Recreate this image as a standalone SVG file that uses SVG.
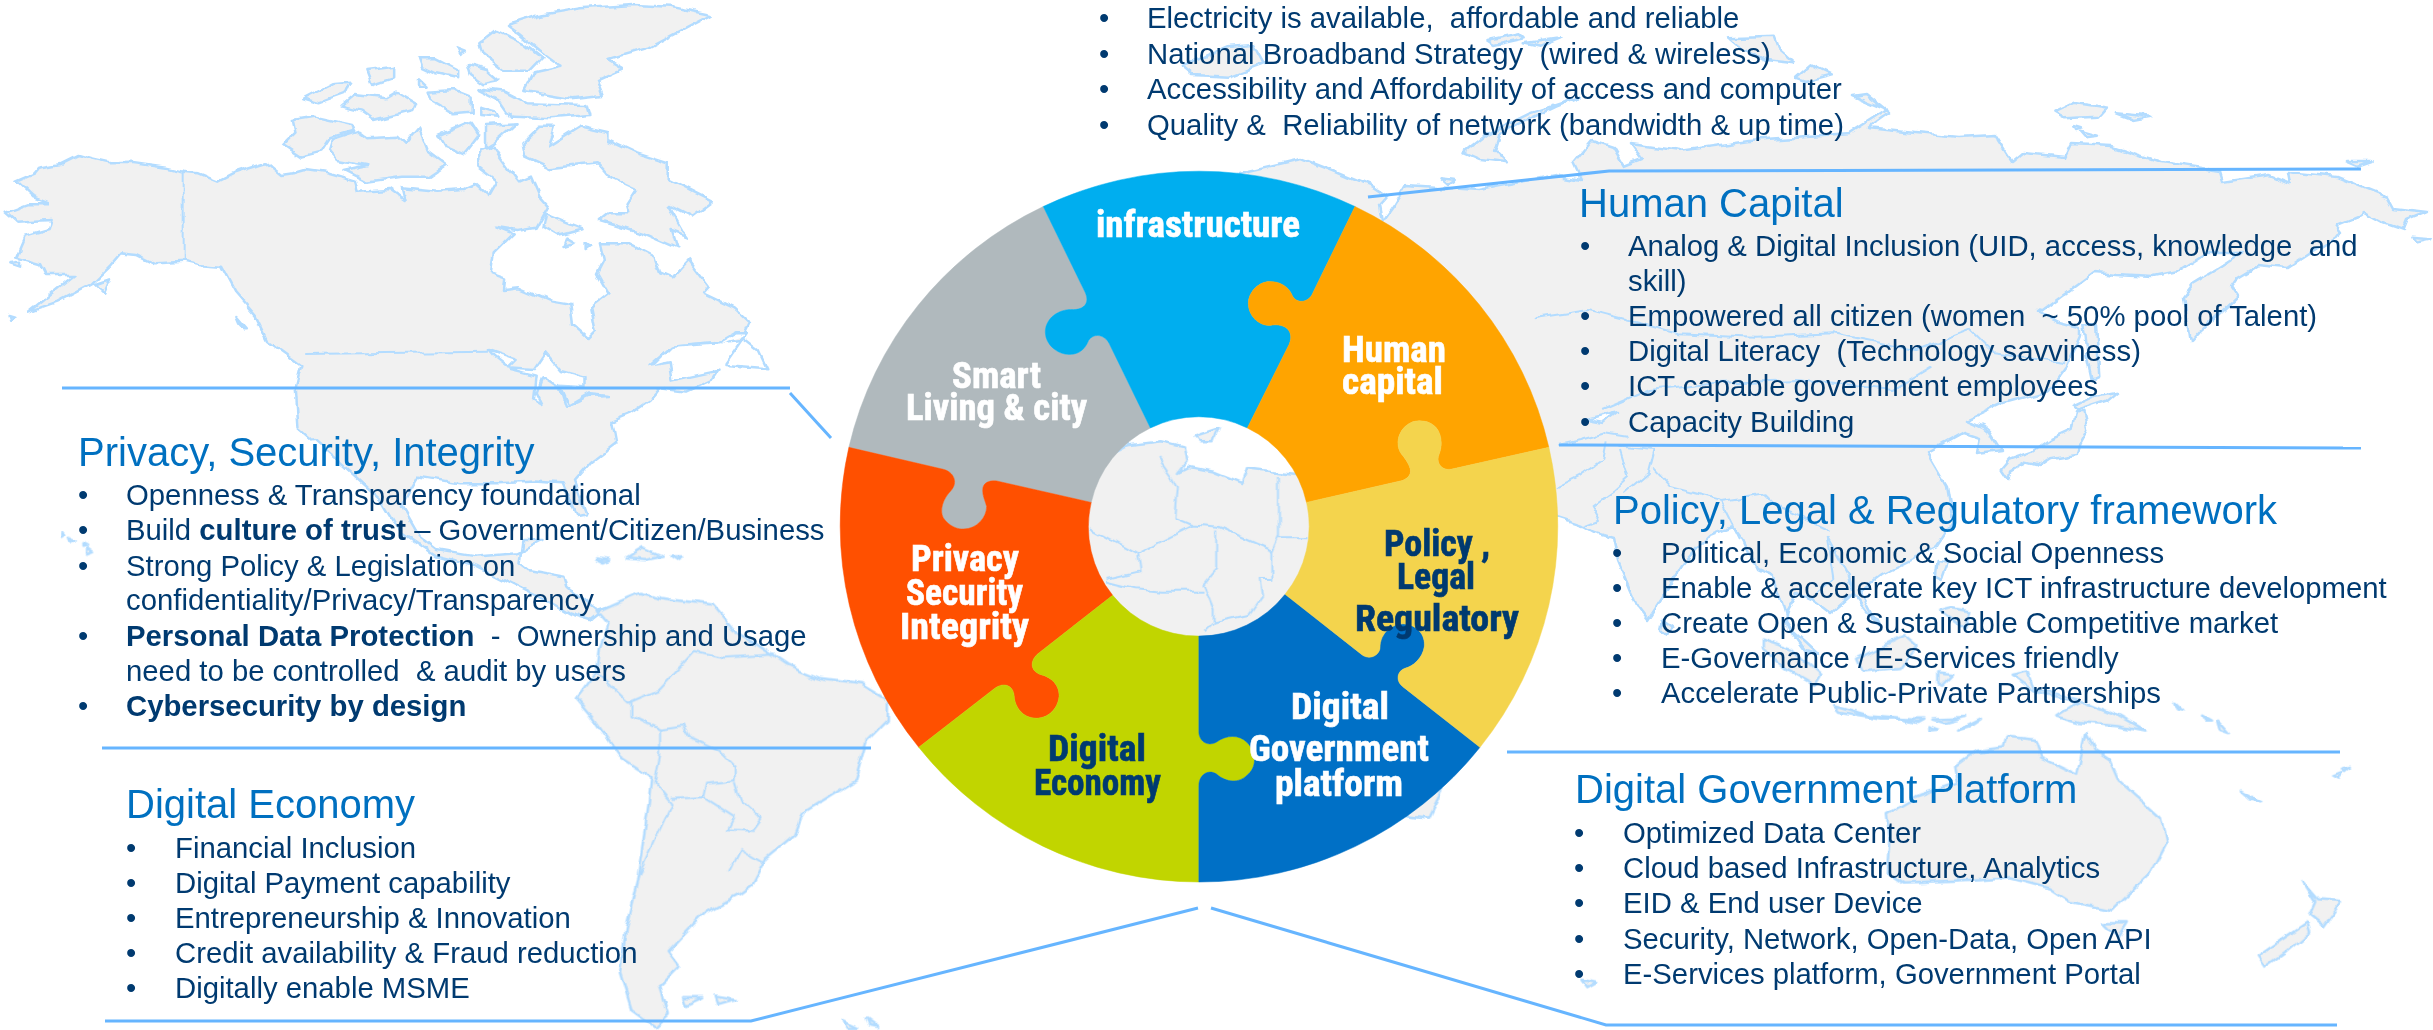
<svg xmlns="http://www.w3.org/2000/svg" width="2433" height="1030" viewBox="0 0 2433 1030">
<style>
.m{fill:#f1f1f1;stroke:#b3dcff;stroke-width:2.5;stroke-linejoin:round;vector-effect:non-scaling-stroke}
.l{fill:none;stroke:#b3dcff;stroke-width:2;stroke-linejoin:round;vector-effect:non-scaling-stroke}
.w{fill:#fff;stroke:#b3dcff;stroke-width:2.5;stroke-linejoin:round;vector-effect:non-scaling-stroke}
.c{fill:none;stroke:#66b5ff;stroke-width:3}
.s{transform:translate(780px,130px) scale(.5102)}
.b{font-family:"Liberation Sans",Arial,sans-serif;font-size:29.3px;fill:#003a70;white-space:pre}
.h{font-family:"Liberation Sans",Arial,sans-serif;font-size:40px;fill:#0070c0}
.t{font-family:"Liberation Sans Narrow","Roboto Condensed","Liberation Sans",sans-serif;font-weight:700;font-size:36px;stroke-width:.6}
.tw{fill:#fff;stroke:#fff}
.td{fill:#003a70;stroke:#003a70}
.B{font-weight:700}
</style>
<defs>
<filter id="coast" filterUnits="userSpaceOnUse" x="0" y="0" width="2433" height="1030">
<feTurbulence type="fractalNoise" baseFrequency=".045" numOctaves="3" seed="4" result="n"/>
<feDisplacementMap in="SourceGraphic" in2="n" scale="9" xChannelSelector="R" yChannelSelector="G"/>
</filter>
</defs>
<rect width="2433" height="1030" fill="#fff"/>
<g id="world-map" filter="url(#coast)">
<g transform="scale(.574 .3333)">
<path class="m" d="M27,545 L60,520 70,500 105,490 135,465 160,478 190,490 230,488 290,503 320,515 345,520 380,545 408,520 465,490 490,525 510,520 530,510 570,520 620,545 625,575 680,570 705,600 700,565 760,575 810,570 830,555 850,585 865,540 835,500 835,450 860,440 885,500 905,545 925,530 940,590 955,620 945,650 935,680 900,690 865,680 895,700 860,760 855,820 880,835 878,870 905,865 960,905 995,915 1000,975 1025,1012 1038,990 1030,920 1060,880 1040,820 1052,780 1045,730 1095,730 1140,770 1150,820 1170,835 1200,780 1235,860 1225,880 1280,925 1305,965 1290,1020 1240,1030 1170,1040 1130,1100 1165,1090 1170,1145 1250,1115 1240,1140 1195,1175 1150,1165 1130,1205 1100,1240 1065,1265 1072,1330 1030,1385 1000,1445 1020,1540 1005,1545 980,1450 930,1445 870,1450 800,1450 730,1430 700,1520 730,1610 760,1650 830,1670 900,1660 945,1620 910,1620 905,1690 920,1710 985,1730 990,1760 1040,1830 1060,1820 1030,1860 990,1840 960,1810 900,1760 830,1700 760,1670 700,1600 665,1500 600,1400 520,1280 515,1165 525,1095 465,1020 445,950 410,880 385,800 345,795 320,785 270,790 240,765 210,760 190,800 160,850 100,905 50,935 130,825 80,825 70,790 30,770 45,710 85,690 90,660 30,665 10,635 50,610 85,610 55,590Z"/>
<path class="l" d="M320,515V785M530,1062 L850,1055"/>
<path class="w" d="M850,1050 L900,1080 885,1105 930,1110 950,1060 975,1110 1020,1130 1020,1165 975,1160 990,1220 1030,1180 1060,1185 1030,1188 985,1225 975,1170 945,1135 935,1180 945,1215 930,1200 935,1130 890,1110 860,1070Z"/>
<path class="w" d="M1135,1100 L1170,1040 1250,1030 1280,1000 1300,1000 1262,1095 1335,1105 1320,1050 1290,1010"/>
<path class="m" d="M885,75 L940,45 1010,25 1100,15 1170,20 1240,45 1195,85 1130,145 1060,180 1085,205 1040,240 1050,285 1000,295 915,270 930,220 980,200 940,150 905,100Z"/>
<path class="m" d="M835,130 L865,90 915,130 945,170 920,215 880,215 840,160Z"/>
<path class="m" d="M730,175 L760,175 800,210 800,235 760,220 735,200Z"/>
<path class="m" d="M815,195 L850,210 870,240 840,250 820,225Z"/>
<path class="m" d="M640,210 L685,200 685,235 650,255Z"/>
<path class="m" d="M830,265 L880,275 920,310 1020,315 1025,345 960,355 890,350 870,300Z"/>
<path class="m" d="M745,275 L790,270 820,290 820,335 790,340 750,300Z"/>
<path class="m" d="M835,320 L865,335 870,350 835,345Z"/>
<path class="m" d="M530,295 L580,250 610,245 600,285 560,310Z"/>
<path class="m" d="M595,320 L620,285 670,295 690,275 725,310 720,330 650,360 630,335Z"/>
<path class="m" d="M510,360 L545,350 610,375 615,395 575,415 560,455 525,470 495,435 515,400Z"/>
<path class="m" d="M580,420 L625,395 640,415 690,410 705,435 730,385 745,450 780,495 750,530 700,530 640,545 600,510 640,495 590,480 575,450Z"/>
<path class="m" d="M765,405 L820,365 835,405 810,460 775,435Z"/>
<path class="m" d="M845,375 L900,370 860,430 845,445Z"/>
<path class="m" d="M910,430 L940,380 965,380 955,440 1010,380 1060,400 1060,420 1110,460 1165,490 1165,540 1240,605 1205,650 1165,615 1190,690 1200,710 1170,690 1180,745 1120,700 1045,660 1060,640 1100,640 1095,610 1110,570 1060,530 1040,490 960,505 915,470Z"/>
<path class="m" d="M950,640 L1015,685 970,705 945,680Z"/>
<path class="m" d="M985,710 L1000,725 980,735Z"/>
<path class="m" d="M1022,730 L1030,740 1022,750Z"/>
<path class="m" d="M410,945 L430,985 425,985 415,965Z"/>
<path class="m" d="M165,850 L190,835 180,875Z"/>
<path class="m" d="M15,945 L25,950 18,960Z"/>
<path class="m" d="M18,790 L35,785 35,800Z"/>
<path class="m" d="M730,235 L745,260 730,260Z"/>
<path class="m" d="M795,145 L810,155 800,165Z"/>
</g>
<g transform="translate(0 500) scale(.574 .3378)">
<path class="m" d="M1040,330 L1080,300 1115,275 1150,290 1240,310 1275,380 1370,490 1430,530 1500,545 1545,590 1545,650 1510,710 1490,830 1400,925 1385,990 1335,1060 1310,1140 1290,1165 1230,1220 1190,1290 1165,1335 1185,1380 1150,1440 1165,1520 1140,1560 1100,1510 1080,1400 1090,1270 1110,1130 1130,900 1135,820 1080,760 1030,640 1005,590 1040,510 1045,440 1060,370Z"/>
<path class="l" d="M1150,680 L1150,760 1140,840 1170,900 1110,1120M1100,600 L1100,640 1150,680 1190,670 1200,700 1250,740 1280,790 1280,830 1230,840 1225,880 1170,885M1225,880 L1280,940 1270,975 1310,980 1325,945 1290,890 1280,835M1270,1100 L1290,1030 1330,1070M1040,510 L1095,600 1150,560 1210,450 1260,470 1350,460"/>
<path class="m" d="M1040,170 L1065,175 1055,182Z"/>
<path class="m" d="M1090,170 L1120,140 1155,165 1125,175Z"/>
<path class="m" d="M1170,170 L1190,170 1180,180Z"/>
<path class="m" d="M105,100 L112,105 105,112Z"/>
<path class="m" d="M120,112 L130,118 122,125Z"/>
<path class="m" d="M142,125 L150,132 142,135Z"/>
<path class="m" d="M150,140 L162,155 150,162Z"/>
<path class="m" d="M1190,1475 L1225,1475 1195,1498Z"/>
<path class="m" d="M1245,1470 L1280,1480 1250,1495Z"/>
<path class="m" d="M1470,1540 L1495,1560 1475,1560Z"/>
<path class="m" d="M1510,1535 L1530,1560 1515,1555Z"/>
</g>
<path class="m" d="M1239,172 L1300,158 1336,172 1372,187 1387,197 1380,205 1383,222 1395,205 1407,185 1479,190 1520,182 1555,175 1581,180 1573,163 1592,140 1613,147 1625,167 1643,160 1631,143 1679,150 1750,140 1851,133 1887,110 1851,95 1865,93 1890,113 1869,128 1905,132 1958,137 1994,135 2012,163 2024,153 2065,157 2071,145 2113,147 2143,157 2161,163 2220,172 2223,182 2270,175 2290,183 2288,172 2337,177 2387,197 2393,208 2427,212 2407,220 2403,230 2383,223 2363,212 2357,217 2337,225 2343,233 2310,253 2287,268 2257,265 2237,277 2230,287 2237,297 2220,313 2200,332 2190,343 2183,297 2192,285 2217,270 2243,253 2207,253 2177,272 2153,277 2117,275 2093,273 2070,290 2040,312 2060,322 2080,327 2080,337 2067,367 2050,390 2003,403 1967,420 1983,427 1990,433 2002,452 1977,455 1980,437 1965,432 1927,453 1947,487 1953,523 1937,547 1880,575 1860,590 1878,625 1853,593 1847,573 1827,537 1847,573 1853,593 1830,613 1813,600 1797,593 1787,610 1783,623 1803,640 1817,653 1805,650 1787,625 1773,577 1757,570 1743,540 1733,527 1707,537 1680,567 1662,597 1647,620 1637,607 1617,560 1612,537 1595,532 1583,525 1558,517 1500,480 1300,300 1230,250Z"/>
<path class="w" d="M1587,420 L1617,412 1603,423Z"/>
<g transform="translate(1480 380) scale(.3333)">
<path class="l" d="M235,195 L300,180 375,160 440,170M380,190 L370,240 300,290 230,325M420,210 L445,290 400,330 335,375 360,420 310,440M520,265 L570,320 720,360 860,340 900,380 1050,450M720,360 L780,480M1040,470 L1060,600 1000,650"/>
<path class="m" d="M1370,540 L1405,545 1385,600 1365,590Z"/>
<path class="m" d="M545,720 L580,745 560,770 540,750Z"/>
</g>
<g transform="translate(1500 0) scale(.595 .3333)">
<path class="l" d="M55,955 L150,930 300,1000 430,1010 560,1000 700,1050 790,990 830,1060 950,1090M725,1100 L660,1170 500,1140 350,1150 250,1170 170,1230M200,1340 L260,1350 250,1420 210,1480"/>
<path class="m" d="M930,335 L965,305 1020,320 1005,350 950,355Z"/>
<path class="m" d="M1035,340 L1095,350 1065,360Z"/>
<path class="m" d="M965,378 L978,385 968,390Z"/>
<path class="m" d="M975,395 L1005,410 985,415Z"/>
<path class="m" d="M1420,480 L1465,480 1440,495Z"/>
<path class="m" d="M1530,710 L1565,715 1540,725Z"/>
</g>
<g transform="translate(1040 0) scale(.5102 .3333)">
<path class="m" d="M280,200 L370,140 420,135 440,190 370,230 300,225Z"/>
<path class="m" d="M875,120 L940,100 950,115 890,135Z"/>
<path class="m" d="M950,130 L1020,115 980,140Z"/>
<path class="m" d="M1350,115 L1440,110 1450,150 1480,190 1420,180 1370,140Z"/>
<path class="m" d="M1480,230 L1510,190 1550,220 1500,240Z"/>
<path class="m" d="M830,460 L880,400 960,340 1060,290 1010,320 900,400 890,450 915,490 860,480Z"/>
<path class="m" d="M785,535 L815,540 800,555Z"/>
</g>
<g transform="translate(1960 150) scale(.3333)">
<path class="m" d="M370,520 L405,520 415,680 395,690 380,620Z"/>
<path class="m" d="M335,770 L400,740 475,725 440,755 395,770 350,785Z"/>
<path class="m" d="M345,790 L370,788 382,835 358,880 350,912 270,925 240,945 200,935 150,965 145,990 125,960 150,930 220,905 270,870 335,840Z"/>
</g>
<g transform="translate(1500 500) scale(.595 .3378)">
<path class="m" d="M440,410 L490,440 540,520 530,550 480,500 440,440Z"/>
<path class="m" d="M600,470 L680,400 700,430 670,500 610,510Z"/>
<path class="m" d="M560,610 L620,640 690,650 640,650 570,630Z"/>
<path class="m" d="M735,510 L760,515 740,550 735,545Z"/>
<path class="m" d="M760,320 L790,330 780,380 740,330Z"/>
<path class="m" d="M860,520 L890,510 900,560 970,590 1040,640 1085,685 1040,670 975,660 935,640 970,600 900,570Z"/>
<path class="m" d="M680,650 L710,650 700,660Z"/>
<path class="m" d="M725,650 L780,645 745,660Z"/>
<path class="m" d="M770,680 L810,645 790,670Z"/>
<path class="m" d="M720,670 L735,680 720,682Z"/>
<path class="m" d="M1135,600 L1150,625 1140,620Z"/>
<path class="m" d="M1180,635 L1195,650 1185,650Z"/>
<path class="m" d="M1205,650 L1225,690 1210,680Z"/>
<path class="m" d="M1400,815 L1415,805 1410,825Z"/>
<path class="m" d="M1415,795 L1430,790 1420,805Z"/>
<path class="m" d="M1245,860 L1280,895 1260,885Z"/>
<path class="m" d="M135,1420 L160,1430 145,1445Z"/>
<path class="m" d="M765,790 L800,745 845,735 850,700 900,710 910,760 970,810 985,690 1000,740 1025,770 1040,830 1110,940 1120,1010 1090,1110 1030,1215 960,1190 925,1150 860,1120 760,1130 680,1135 650,1100 655,1000 650,930 700,880 770,840Z"/>
<path class="m" d="M1015,1250 L1055,1250 1040,1295Z"/>
<path class="m" d="M1350,1135 L1375,1185 1415,1190 1385,1265 1360,1230 1370,1190Z"/>
<path class="m" d="M1355,1250 L1360,1280 1320,1340 1285,1385 1272,1350 1330,1280Z"/>
</g>
<g class="s">
<path class="m" d="M1150,1280 L1300,1280 1290,1310 1270,1350 1230,1345Z"/>
<path class="m" d="M600,660 L680,618 750,610 790,620 795,650 780,670 800,660 850,670 905,692 915,665 975,672 1040,680 1050,1000 590,1000Z"/>
<path class="m" d="M815,600 L860,585 850,610 825,610Z"/>
<path class="l" d="M745,645 L770,680 780,700 775,760 810,775 700,830 608,780M810,775 L860,780 965,825 965,880 940,880 945,915 920,950 850,965 830,985M855,785 L855,860 830,890 850,940 850,965M978,680 L978,800 1036,800M978,795 L965,825M700,830 L705,865 640,880M640,885 L700,900 750,905 830,905"/>
</g>
</g>
<g id="connectors">
<path class="c" d="M62,388H790M790,393L831,438"/>
<path class="c" d="M102,748H871"/>
<path class="c" d="M105,1021H751L1198,908"/>
<path class="c" d="M1211,908L1606,1025H2337"/>
<path class="c" d="M1507,752H2340"/>
<path class="c" d="M1559,445L2361,448"/>
<path class="c" d="M1368,197L1609,171L2361,169"/>
</g>
<g id="node-smart">
<path class="s" fill="#b0b9bd" stroke="#b0b9bd" d="M135,622 A703 697 0 0 1 516,150 L598,318 C608,340 595,352 575,352 C545,350 520,370 520,396 C520,422 545,440 567,440 C590,440 600,425 605,412 C615,398 635,400 645,418 L726,584 A215 213.5 0 0 0 610,730 L425,688 C415,687 402,688 398,700 C395,715 402,725 405,738 C405,760 385,782 360,782 C350,783 332,778 320,760 C312,745 320,722 335,707 C350,690 340,670 320,665 L135,622Z"/>
<text class="t tw" x="952" y="388" textLength="89" lengthAdjust="spacingAndGlyphs">Smart</text>
<text class="t tw" x="906" y="420" textLength="181" lengthAdjust="spacingAndGlyphs">Living &amp; city</text>
</g>
<g id="node-privacy">
<path class="s" fill="#ff5000" stroke="#ff5000" d="M272,1210 A703 697 0 0 1 135,622 L320,665 C340,670 350,690 335,707 C320,722 312,745 320,760 C332,778 350,783 360,782 C385,782 405,760 405,738 C402,725 395,715 398,700 C402,688 415,687 425,688 L610,730 A215 213.5 0 0 0 652,912 L505,1027 C490,1040 490,1060 510,1067 C535,1073 548,1090 547,1110 C545,1135 525,1153 503,1153 C475,1153 460,1130 459,1110 C458,1090 440,1080 420,1095 L272,1210Z"/>
<text class="t tw" x="911" y="571" textLength="108" lengthAdjust="spacingAndGlyphs">Privacy</text>
<text class="t tw" x="906" y="605" textLength="117" lengthAdjust="spacingAndGlyphs">Security</text>
<text class="t tw" x="900" y="639" textLength="129" lengthAdjust="spacingAndGlyphs">Integrity</text>
</g>
<g id="node-economy">
<path class="s" fill="#c1d500" stroke="#c1d500" d="M821,1474 A703 697 0 0 1 272,1210 L420,1095 C440,1080 458,1090 459,1110 C460,1130 475,1153 503,1153 C525,1153 545,1135 547,1110 C548,1090 535,1073 510,1067 C490,1060 490,1040 505,1027 L652,912 A215 213.5 0 0 0 821,992 L821,1180 C821,1195 835,1210 855,1200 C875,1185 900,1185 915,1200 C935,1220 935,1250 915,1265 C900,1280 875,1280 855,1262 C838,1252 821,1265 821,1285 L821,1474Z"/>
<text class="t td" x="1048" y="761" textLength="98" lengthAdjust="spacingAndGlyphs">Digital</text>
<text class="t td" x="1034" y="795" textLength="127" lengthAdjust="spacingAndGlyphs">Economy</text>
</g>
<g id="node-government">
<path class="s" fill="#0070c6" stroke="#0070c6" d="M1372,1210 A703 697 0 0 1 821,1474 L821,1285 C821,1265 838,1252 855,1262 C875,1280 900,1280 915,1265 C935,1250 935,1220 915,1200 C900,1185 875,1185 855,1200 C835,1210 821,1195 821,1180 L821,992 A215 213.5 0 0 0 990,910 L1140,1028 C1155,1040 1175,1030 1176,1015 C1176,985 1200,968 1222,968 C1250,970 1265,990 1263,1012 C1260,1035 1240,1052 1225,1055 C1210,1060 1205,1080 1222,1092 L1372,1210Z"/>
<text class="t tw" x="1291" y="719" textLength="98" lengthAdjust="spacingAndGlyphs">Digital</text>
<text class="t tw" x="1249" y="761" textLength="180" lengthAdjust="spacingAndGlyphs">Government</text>
<text class="t tw" x="1275" y="796" textLength="128" lengthAdjust="spacingAndGlyphs">platform</text>
</g>
<g id="node-infrastructure">
<path class="s" fill="#00aeef" stroke="#00aeef" d="M516,150 A703 697 0 0 1 1127,150 L1045,318 C1037,340 1010,342 1003,322 C995,305 978,297 960,297 C938,297 918,318 918,340 C918,365 940,384 960,383 C985,378 1010,390 998,420 L916,584 A215 213.5 0 0 0 726,584 L645,418 C635,400 615,398 605,412 C600,425 590,440 567,440 C545,440 520,422 520,396 C520,370 545,350 575,352 C595,352 608,340 598,318 L516,150Z"/>
<text class="t tw" x="1096" y="237" textLength="204" lengthAdjust="spacingAndGlyphs">infrastructure</text>
</g>
<g id="node-human">
<path class="s" fill="#ffa400" stroke="#ffa400" d="M1127,150 A703 697 0 0 1 1507,622 L1315,665 C1295,668 1285,650 1292,635 C1302,610 1295,570 1253,570 C1220,570 1200,610 1218,635 C1230,650 1250,675 1220,687 L1032,730 A215 213.5 0 0 0 916,584 L998,420 C1010,390 985,378 960,383 C940,384 918,365 918,340 C918,318 938,297 960,297 C978,297 995,305 1003,322 C1010,342 1037,340 1045,318 L1127,150Z"/>
<text class="t tw" x="1342" y="362" textLength="104" lengthAdjust="spacingAndGlyphs">Human</text>
<text class="t tw" x="1342" y="394" textLength="101" lengthAdjust="spacingAndGlyphs">capital</text>
</g>
<g id="node-policy">
<path class="s" fill="#f4d44d" stroke="#f4d44d" d="M1507,622 A703 697 0 0 1 1372,1210 L1222,1092 C1205,1080 1210,1060 1225,1055 C1240,1052 1260,1035 1263,1012 C1265,990 1250,970 1222,968 C1200,968 1176,985 1176,1015 C1175,1030 1155,1040 1140,1028 L990,910 A215 213.5 0 0 0 1032,730 L1220,687 C1250,675 1230,650 1218,635 C1200,610 1220,570 1253,570 C1295,570 1302,610 1292,635 C1285,650 1295,668 1315,665 L1507,622Z"/>
<text class="t td" x="1384" y="556" textLength="106" lengthAdjust="spacingAndGlyphs">Policy ,</text>
<text class="t td" x="1397" y="589" textLength="78" lengthAdjust="spacingAndGlyphs">Legal</text>
<text class="t td" x="1355" y="631" textLength="164" lengthAdjust="spacingAndGlyphs">Regulatory</text>
</g>
<g id="panel-infrastructure">
<text class="b" x="1099" y="28">•</text><text class="b" x="1147" y="28">Electricity is available,  affordable and reliable</text>
<text class="b" x="1099" y="64">•</text><text class="b" x="1147" y="64">National Broadband Strategy  (wired &amp; wireless)</text>
<text class="b" x="1099" y="99">•</text><text class="b" x="1147" y="99">Accessibility and Affordability of access and computer</text>
<text class="b" x="1099" y="135">•</text><text class="b" x="1147" y="135">Quality &amp;  Reliability of network (bandwidth &amp; up time)</text>
</g>
<g id="panel-privacy">
<text class="h" x="78" y="466">Privacy, Security, Integrity</text>
<text class="b" x="78" y="505">•</text><text class="b" x="126" y="505">Openness &amp; Transparency foundational</text>
<text class="b" x="78" y="540">•</text><text class="b" x="126" y="540">Build <tspan class="B">culture of trust </tspan>– Government/Citizen/Business</text>
<text class="b" x="78" y="576">•</text><text class="b" x="126" y="576">Strong Policy &amp; Legislation on</text>
<text class="b" x="126" y="610">confidentiality/Privacy/Transparency</text>
<text class="b" x="78" y="646">•</text><text class="b" x="126" y="646"><tspan class="B">Personal Data Protection</tspan>  -  Ownership and Usage</text>
<text class="b" x="126" y="681">need to be controlled  &amp; audit by users</text>
<text class="b" x="78" y="716">•</text><text class="b B" x="126" y="716">Cybersecurity by design</text>
</g>
<g id="panel-economy">
<text class="h" x="126" y="818">Digital Economy</text>
<text class="b" x="126" y="858">•</text><text class="b" x="175" y="858">Financial Inclusion</text>
<text class="b" x="126" y="893">•</text><text class="b" x="175" y="893">Digital Payment capability</text>
<text class="b" x="126" y="928">•</text><text class="b" x="175" y="928">Entrepreneurship &amp; Innovation</text>
<text class="b" x="126" y="963">•</text><text class="b" x="175" y="963">Credit availability &amp; Fraud reduction</text>
<text class="b" x="126" y="998">•</text><text class="b" x="175" y="998">Digitally enable MSME</text>
</g>
<g id="panel-human">
<text class="h" x="1579" y="217">Human Capital</text>
<text class="b" x="1580" y="256">•</text><text class="b" x="1628" y="256">Analog &amp; Digital Inclusion (UID, access, knowledge  and</text>
<text class="b" x="1628" y="291">skill)</text>
<text class="b" x="1580" y="326">•</text><text class="b" x="1628" y="326">Empowered all citizen (women  ~ 50% pool of Talent)</text>
<text class="b" x="1580" y="361">•</text><text class="b" x="1628" y="361">Digital Literacy  (Technology savviness)</text>
<text class="b" x="1580" y="396">•</text><text class="b" x="1628" y="396">ICT capable government employees</text>
<text class="b" x="1580" y="432">•</text><text class="b" x="1628" y="432">Capacity Building</text>
</g>
<g id="panel-policy">
<text class="h" x="1613" y="524">Policy, Legal &amp; Regulatory framework</text>
<text class="b" x="1612" y="563">•</text><text class="b" x="1661" y="563">Political, Economic &amp; Social Openness</text>
<text class="b" x="1612" y="598">•</text><text class="b" x="1661" y="598">Enable &amp; accelerate key ICT infrastructure development</text>
<text class="b" x="1612" y="633">•</text><text class="b" x="1661" y="633">Create Open &amp; Sustainable Competitive market</text>
<text class="b" x="1612" y="668">•</text><text class="b" x="1661" y="668">E-Governance / E-Services friendly</text>
<text class="b" x="1612" y="703">•</text><text class="b" x="1661" y="703">Accelerate Public-Private Partnerships</text>
</g>
<g id="panel-government">
<text class="h" x="1575" y="803">Digital Government Platform</text>
<text class="b" x="1574" y="843">•</text><text class="b" x="1623" y="843">Optimized Data Center</text>
<text class="b" x="1574" y="878">•</text><text class="b" x="1623" y="878">Cloud based Infrastructure, Analytics</text>
<text class="b" x="1574" y="913">•</text><text class="b" x="1623" y="913">EID &amp; End user Device</text>
<text class="b" x="1574" y="949">•</text><text class="b" x="1623" y="949">Security, Network, Open-Data, Open API</text>
<text class="b" x="1574" y="984">•</text><text class="b" x="1623" y="984">E-Services platform, Government Portal</text>
</g>
</svg>
